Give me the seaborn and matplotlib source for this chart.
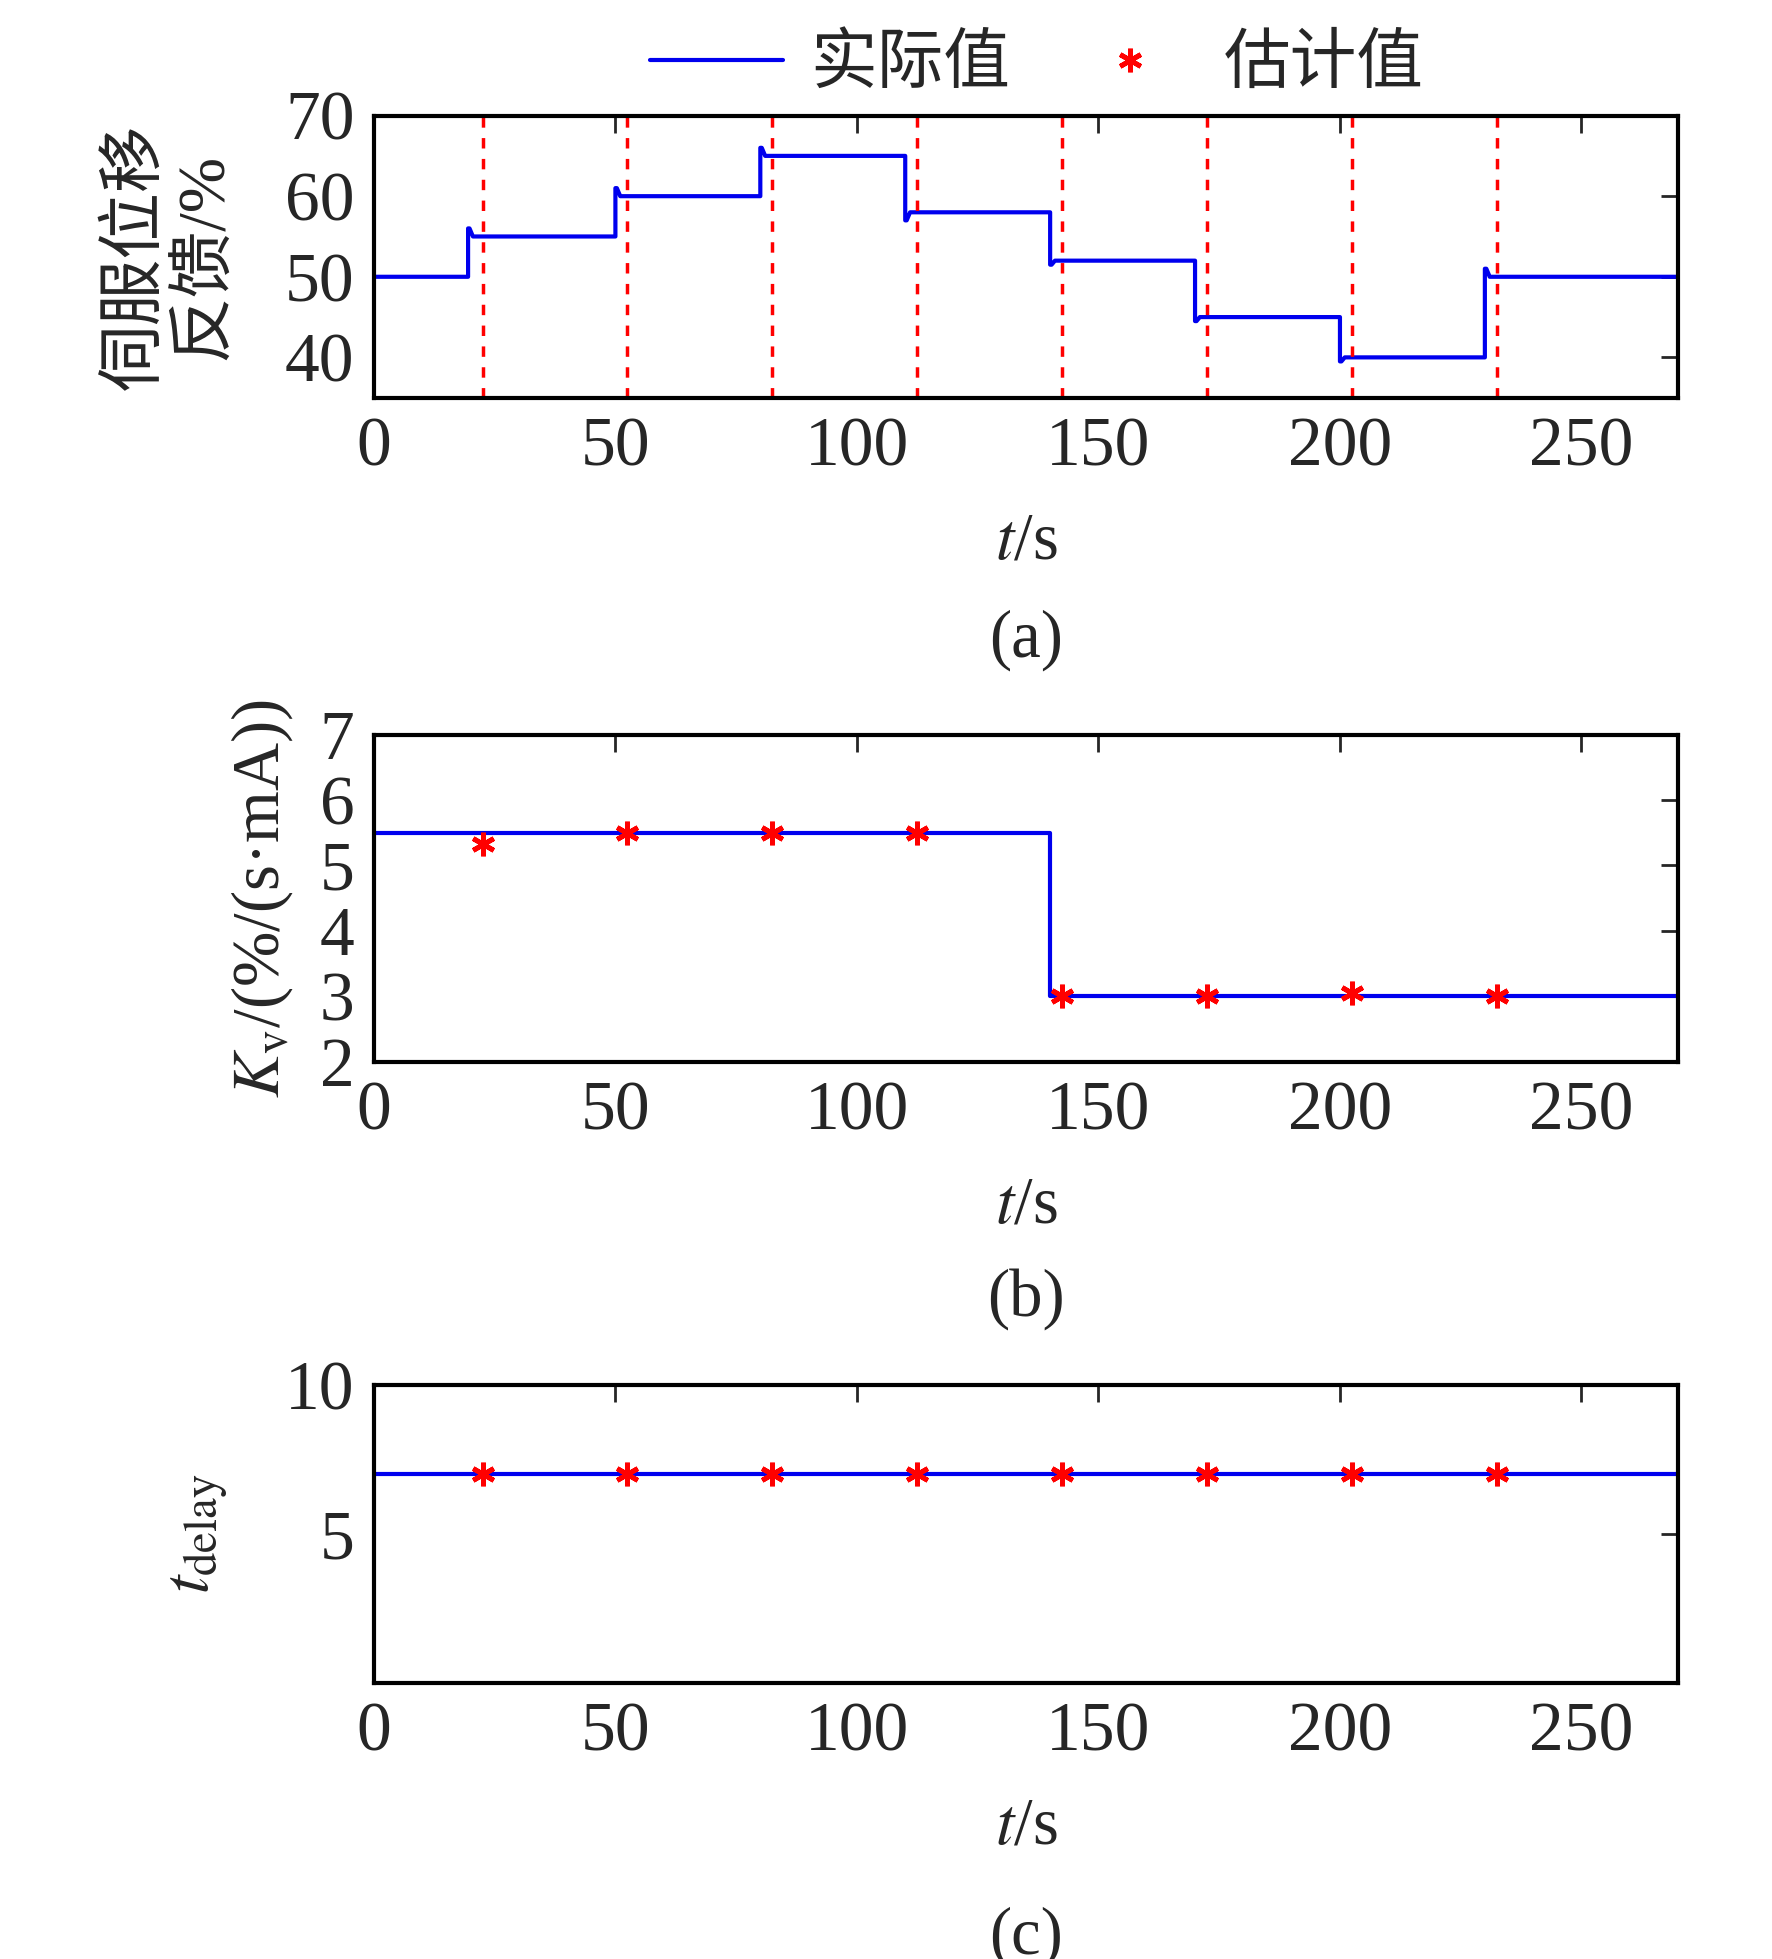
import numpy as np
import pandas as pd
import matplotlib
matplotlib.use("Agg")
import matplotlib.pyplot as plt
import seaborn as sns

# panel (a): servo feedback steps
switch_t = [0, 19.5, 50, 80, 110, 140, 170, 200, 230, 270]
levels = [50, 55, 60, 65, 58, 52, 45, 40, 50]
peaks = [50, 56, 61, 66, 57, 51.5, 44.5, 39.5, 51]
est_t = [22.5, 52.5, 82.5, 112.5, 142.5, 172.5, 202.5, 232.5]

# panel (b): Kv
kv_t = [0, 140, 140, 270]
kv_v = [5.5, 5.5, 3.0, 3.0]
kv_est = [5.33, 5.5, 5.5, 5.5, 3.0, 3.0, 3.05, 3.0]

# panel (c): delay
td_t = [0, 270]
td_v = [7, 7]
td_est = [7, 7, 7, 7, 7, 7, 7, 7]

sns.set_style("white")
plt.rcParams['font.family'] = ['Liberation Serif', 'Noto Sans CJK SC']
plt.rcParams['mathtext.fontset'] = 'stix'
FS = 48

# build step trace for (a)
ta, ya = [], []
for i, lv in enumerate(levels):
    t0, t1 = switch_t[i], switch_t[i + 1]
    ta += [t0, t0 + 0.3, t0 + 1.0, t1]
    ya += [peaks[i], peaks[i], lv, lv]
dfa = pd.DataFrame({"t": ta, "y": ya})

fig = plt.figure(figsize=(17.72, 19.59), dpi=100)
L, R = 0.211, 0.947
axa = fig.add_axes([L, 0.797, R - L, 0.144])
axb = fig.add_axes([L, 0.458, R - L, 0.167])
axc = fig.add_axes([L, 0.141, R - L, 0.152])

ast = (6, 2, 0)
blue = '#0000ee'
MS, MEW = 17, 3.5

sns.lineplot(data=dfa, x="t", y="y", ax=axa, color=blue, lw=3, sort=False,
             estimator=None, label="实际值")
for t in est_t:
    axa.axvline(t, color='red', ls='--', lw=2.5, dashes=(3, 3))
axa.plot([], [], ls='none', marker=ast, color='red', ms=MS, mew=MEW, label="估计值")
axa.set_ylim(35, 70)
axa.set_yticks([40, 50, 60, 70])
axa.set_ylabel("伺服位移\n反馈/%", fontsize=FS, linespacing=1.15, labelpad=35)

sns.lineplot(x=kv_t, y=kv_v, ax=axb, color=blue, lw=3, sort=False, estimator=None)
axb.plot(est_t, kv_est, ls='none', marker=ast, color='red', ms=MS, mew=MEW)
axb.set_ylim(2, 7)
axb.set_yticks([2, 3, 4, 5, 6, 7])
axb.set_ylabel(r"$K_\mathrm{v}$/(%/(s·mA))", fontsize=FS, labelpad=18)

sns.lineplot(x=td_t, y=td_v, ax=axc, color=blue, lw=3, sort=False, estimator=None)
axc.plot(est_t, td_est, ls='none', marker=ast, color='red', ms=MS, mew=MEW)
axc.set_ylim(0, 10)
axc.set_yticks([5, 10])
axc.set_ylabel(r"$t_{\mathrm{delay}}$", fontsize=FS, labelpad=40)

for ax, tag in zip([axa, axb, axc], ["(a)", "(b)", "(c)"]):
    ax.set_xlim(0, 270)
    ax.set_xticks([0, 50, 100, 150, 200, 250])
    ax.tick_params(direction='in', top=True, right=True, length=12, width=2,
                   labelsize=FS + 2, pad=14)
    for s in ax.spines.values():
        s.set_linewidth(3)
        s.set_color('black')
    ax.set_xlabel(r"$t$/s", fontsize=FS, labelpad=22)
    ax.text(0.5, -0.75 if ax is not axb else -0.63, tag, transform=ax.transAxes,
            ha='center', va='top', fontsize=FS)

h, lab = axa.get_legend_handles_labels()
axa.get_legend().remove()
fig.legend(h, lab, loc='upper center', bbox_to_anchor=(0.585, 1.015), ncol=2,
           frameon=False, handlelength=2.0, handletextpad=0.4, columnspacing=0.8,
           markerscale=1.0, prop={'family': ['Noto Sans CJK SC'], 'size': FS})

fig.savefig("out.png", dpi=100)
